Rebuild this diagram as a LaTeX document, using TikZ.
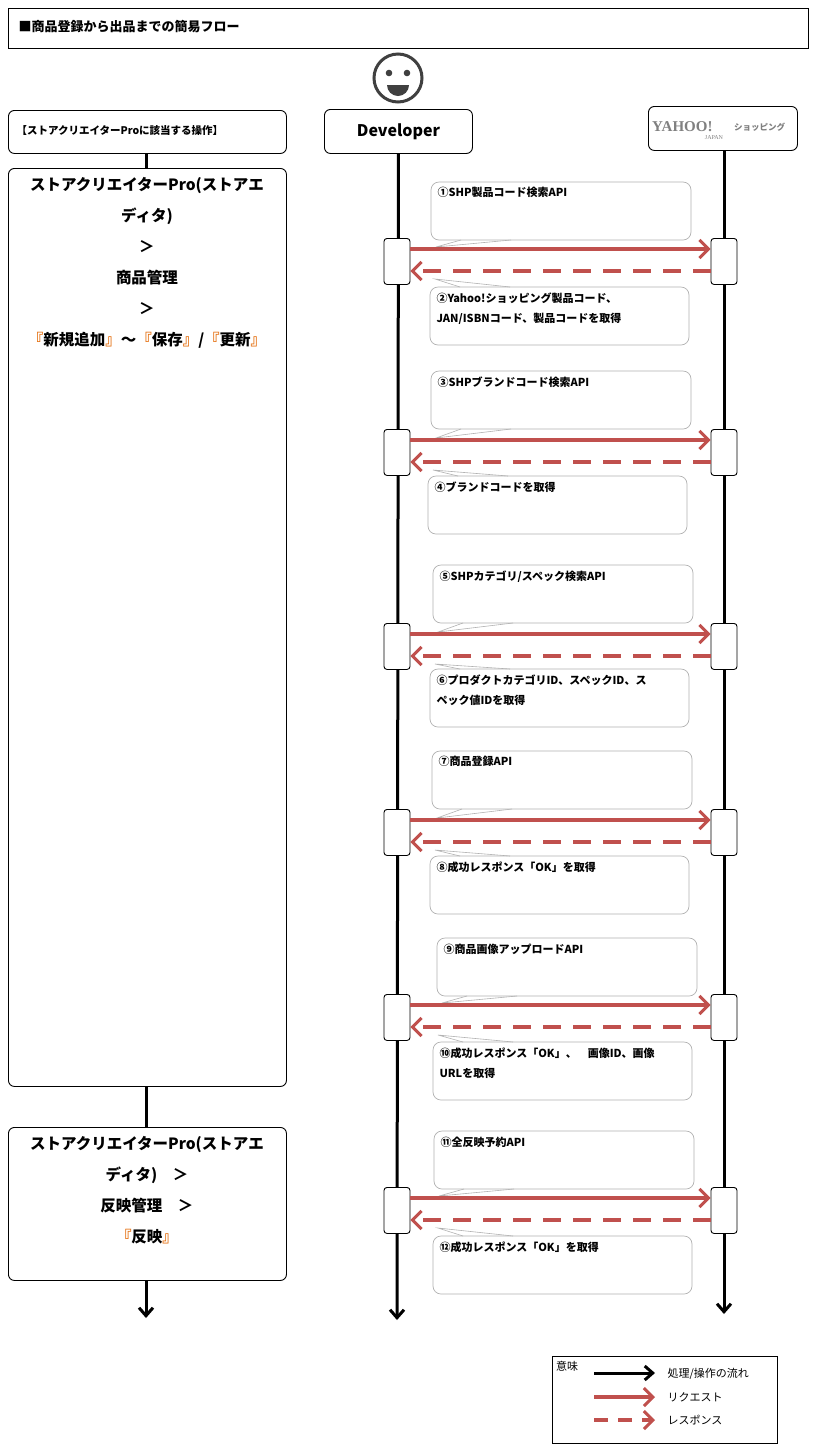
\documentclass[tikz,border=0pt]{standalone}
\usepackage{fontspec}
\setmainfont{Noto Sans CJK JP}
\newfontfamily\logofont{Liberation Serif}
\usetikzlibrary{arrows.meta}
\definecolor{req}{HTML}{C0504D}
\definecolor{brk}{HTML}{E46C0A}
\tikzset{
  box/.style={draw,rounded corners=6pt,line width=0.9pt},
  callout/.style={draw=gray!60,rounded corners=8pt,line width=0.7pt,fill=white},
  act/.style={draw,rounded corners=3pt,line width=0.9pt,fill=white},
  life/.style={line width=3pt,-{Straight Barb[length=8pt,width=14pt,line width=3pt]}},
  reqarrow/.style={req,line width=3.5pt,-{Straight Barb[length=9pt,width=18pt,line width=3pt]}},
  resarrow/.style={req,line width=3.5pt,dash pattern=on 18pt off 12pt,-{Straight Barb[length=9pt,width=18pt,line width=3pt]}},
  ctext/.style={anchor=north west,font=\fontsize{11}{20}\selectfont\bfseries,align=left},
}
\newcommand{\grp}[8]{% #1 tag, #2 upper top, #3 act top, #4 upper text, #5 lower text, #6 upper x, #7 lower top, #8 lower x
  \pgfmathsetmacro{\ut}{#2}\pgfmathsetmacro{\at}{#3}\pgfmathsetmacro{\lt}{#7}
  \path[callout] (#6,-\ut) rectangle ++(260,-58);
  \path[callout] (#8,-\lt) rectangle ++(259,-58);
  \draw[gray!60,line width=0.6pt] (#6+30,-\ut-58) -- (#6+5,-\at-9) -- (#6+80,-\ut-58);
  \draw[gray!60,line width=0.6pt] (#8+30,-\lt) -- (#8+5,-\at-41) -- (#8+80,-\lt);
  \node[ctext] at (#6+3,-\ut-2) {#4};
  \node[ctext] at (#8+3,-\lt-2) {#5};
  \node[act,minimum width=26pt,minimum height=46pt,anchor=north] (d#1) at (397,-\at) {};
  \node[act,minimum width=26pt,minimum height=46pt,anchor=north] (y#1) at (724,-\at) {};
  \draw[reqarrow] (d#1.east|-0,-\at-11) -- (y#1.west|-0,-\at-11);
  \draw[resarrow] (y#1.west|-0,-\at-33) -- (d#1.east|-0,-\at-33);
}
\begin{document}
\begin{tikzpicture}[x=1pt,y=1pt]
\useasboundingbox (0,0) rectangle (822,-1452);
\fill[white] (0,0) rectangle (822,-1452);
% title
\node[draw,line width=0.8pt,minimum width=800pt,minimum height=40pt,anchor=north west,inner sep=0] (title) at (8,-8) {};
\node[anchor=west,font=\fontsize{13}{15}\selectfont\bfseries] at (15,-27) {■商品登録から出品までの簡易フロー};
% left column
\node[box,minimum width=278pt,minimum height=43pt,anchor=north west] (lh) at (8,-110) {};
\node[anchor=west,font=\fontsize{10.5}{12}\selectfont\bfseries] at (13,-131) {【ストアクリエイターProに該当する操作】};
\node[box,minimum width=278pt,minimum height=918pt,anchor=north west] (lb1) at (8,-168) {};
\node[align=center,anchor=north,font=\fontsize{15.5}{31}\selectfont\bfseries] at (147,-174) {ストアクリエイターPro(ストアエ\\ディタ)\\＞\\商品管理\\＞\\{\color{brk}『}新規追加{\color{brk}』}～{\color{brk}『}保存{\color{brk}』}/{\color{brk}『}更新{\color{brk}』}};
\node[box,minimum width=278pt,minimum height=153pt,anchor=north west] (lb2) at (8,-1127) {};
\node[align=center,anchor=north,font=\fontsize{15.5}{31}\selectfont\bfseries] at (147,-1133) {ストアクリエイターPro(ストアエ\\ディタ)　＞\\反映管理　＞\\{\color{brk}『}反映{\color{brk}』}};
\coordinate (lend) at (146,-1318);
\draw[line width=3pt] (lh.south-|146,0) -- (lb1.north-|146,0);
\draw[line width=3pt] (lb1.south-|146,0) -- (lb2.north-|146,0);
\draw[life] (lb2.south-|146,0) -- (lend);
% face
\draw[line width=3pt,black!75] (398,-78) circle (24);
\fill[black!75] (389,-73) circle (3.3) (407,-73) circle (3.3);
\fill[black!75] (387,-85) arc[start angle=180,end angle=360,radius=11] -- cycle;
% heads
\node[box,minimum width=148pt,minimum height=44pt,anchor=north west,font=\fontsize{16}{18}\selectfont\bfseries] (dev) at (324,-109) {Developer};
\node[box,minimum width=149pt,minimum height=44pt,anchor=north west] (yh) at (648,-106) {};
\node[anchor=west,text=gray,font=\logofont\fontsize{15}{15}\selectfont\bfseries,inner sep=0] at (652,-127) {YAHOO!};
\node[text=gray,font=\logofont\fontsize{6}{6}\selectfont,inner sep=0] at (714,-138) {JAPAN};
\node[anchor=west,text=gray,font=\fontsize{8.5}{9}\selectfont\bfseries,inner sep=0] at (734,-127) {ショッピング};
\coordinate (dend) at (397,-1320);
\coordinate (yend) at (724,-1314);
\draw[life] (dev.south) -- (dend);
\draw[life] (yh.south-|724,0) -- (yend);
% groups
\grp{1}{182}{238}{①SHP製品コード検索API}{②Yahoo!ショッピング製品コード、\\JAN/ISBNコード、製品コードを取得}{431}{287}{430}
\grp{2}{371}{429}{③SHPブランドコード検索API}{④ブランドコードを取得}{431}{476}{428}
\grp{3}{565}{623}{⑤SHPカテゴリ/スペック検索API}{⑥プロダクトカテゴリID、スペックID、ス\\ペック値IDを取得}{433}{669}{430}
\grp{4}{751}{809}{⑦商品登録API}{⑧成功レスポンス「OK」を取得}{432}{856}{430}
\grp{5}{938}{994}{⑨商品画像アップロードAPI}{⑩成功レスポンス「OK」、　画像ID、画像\\URLを取得}{437}{1042}{433}
\grp{6}{1131}{1187}{⑪全反映予約API}{⑫成功レスポンス「OK」を取得}{434}{1236}{433}
% legend
\node[draw,line width=0.8pt,minimum width=225pt,minimum height=87pt,anchor=north west] (leg) at (552,-1356) {};
\node[anchor=north west,font=\fontsize{11}{13}\selectfont,inner sep=2pt] at (554,-1359) {意味};
\coordinate (a1) at (594,-1373); \coordinate (b1) at (655,-1373);
\coordinate (a2) at (594,-1397); \coordinate (b2) at (655,-1397);
\coordinate (a3) at (594,-1420); \coordinate (b3) at (655,-1420);
\draw[life] (a1) -- (b1);
\draw[reqarrow] (a2) -- (b2);
\draw[resarrow,dash pattern=on 14pt off 10pt] (a3) -- (b3);
\node[anchor=west,font=\fontsize{11}{13}\selectfont] at (664,-1374) {処理/操作の流れ};
\node[anchor=west,font=\fontsize{11}{13}\selectfont] at (664,-1397) {リクエスト};
\node[anchor=west,font=\fontsize{11}{13}\selectfont] at (664,-1420) {レスポンス};
\end{tikzpicture}
\end{document}
